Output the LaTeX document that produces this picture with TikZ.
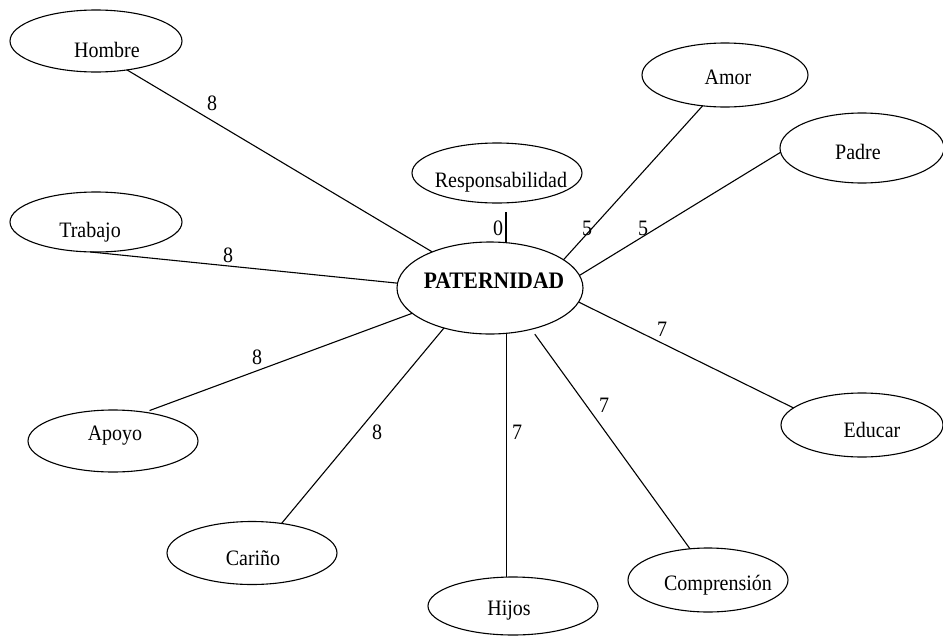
\documentclass[tikz,border=0pt]{standalone}
\usepackage{fontspec}
\setmainfont{Liberation Serif}
\usetikzlibrary{shapes.geometric}
\newcommand{\etq}[3]{\raisebox{#2}[0pt][0pt]{\makebox[0pt]{\hspace*{#1}\hspace*{#1}\scalebox{1}[1.1]{#3}}}}
\begin{document}
\begin{tikzpicture}[x=1pt,y=-1pt,font=\fontsize{20}{24}\selectfont,
  ent/.style={draw, ellipse, line width=1.1pt, inner sep=0pt, outer sep=0pt},
  conn/.style={line width=1.1pt},
  num/.style={inner sep=0pt}]
\useasboundingbox (0,0) rectangle (943,635);
% nodes
\node[ent, minimum width=172pt, minimum height=62pt] (hombre) at (96,41) {\etq{11pt}{-16pt}{Hombre}};
\node[ent, minimum width=172pt, minimum height=60pt] (trabajo) at (96,222) {\etq{-6pt}{-15pt}{Trabajo}};
\node[ent, minimum width=170pt, minimum height=60pt] (resp) at (497,173) {\etq{4pt}{-14pt}{Responsabilidad}};
\node[ent, minimum width=186pt, minimum height=92pt] (pat) at (490,288) {\etq{4pt}{0pt}{\fontsize{21.5}{24}\selectfont\textbf{PATERNIDAD}}};
\node[ent, minimum width=166pt, minimum height=64pt] (amor) at (725,75) {\etq{3pt}{-9pt}{Amor}};
\node[ent, minimum width=164pt, minimum height=70pt] (padre) at (862,148) {\etq{-4pt}{-11pt}{Padre}};
\node[ent, minimum width=162pt, minimum height=64pt] (educar) at (862,425) {\etq{10pt}{-12pt}{Educar}};
\node[ent, minimum width=170pt, minimum height=62pt] (apoyo) at (113,441) {\etq{2pt}{1pt}{Apoyo}};
\node[ent, minimum width=170pt, minimum height=63pt] (carino) at (252,553) {\etq{1pt}{-12pt}{Cariño}};
\node[ent, minimum width=170pt, minimum height=58pt] (hijos) at (513,606) {\etq{-4pt}{-9pt}{Hijos}};
\node[ent, minimum width=160pt, minimum height=64pt] (compr) at (708,580) {\etq{10pt}{-10pt}{Comprensión}};
% connectors
\draw[conn] (hombre.-43) -- (pat.148.5);
\draw[conn] (trabajo.259) -- (pat.177);
\draw[conn, shorten <=5pt] (apoyo.42) -- (pat.198);
\draw[conn] (carino.45) -- (pat.221);
\draw[conn] (pat.-70.8) -- (pat.-70.8 |- hijos.north);
\draw[conn, shorten >=6pt] (compr.120) -- (pat.-45.6);
\draw[conn] (educar.166.6) -- (pat.-9.9);
\draw[conn] (padre.183.5) -- (pat.8);
\draw[conn] (amor.234.3) -- (pat.21);
\draw[conn, shorten <=9pt] ([xshift=9pt]resp.south) -- ([xshift=9pt]resp.south |- pat.north);
% labels
\node[num] (l1) at (212,103) {\scalebox{1}[1.1]{8}};
\node[num] (l2) at (228,255) {\scalebox{1}[1.1]{8}};
\node[num] (l3) at (257,357) {\scalebox{1}[1.1]{8}};
\node[num] (l4) at (377,432) {\scalebox{1}[1.1]{8}};
\node[num] (l5) at (517,432) {\scalebox{1}[1.1]{7}};
\node[num] (l6) at (604,405) {\scalebox{1}[1.1]{7}};
\node[num] (l7) at (662,329) {\scalebox{1}[1.1]{7}};
\node[num] (l8) at (643,228) {\scalebox{1}[1.1]{5}};
\node[num] (l9) at (587,228) {\scalebox{1}[1.1]{5}};
\node[num] (l10) at (498,228) {\scalebox{1}[1.1]{0}};
\end{tikzpicture}
\end{document}
